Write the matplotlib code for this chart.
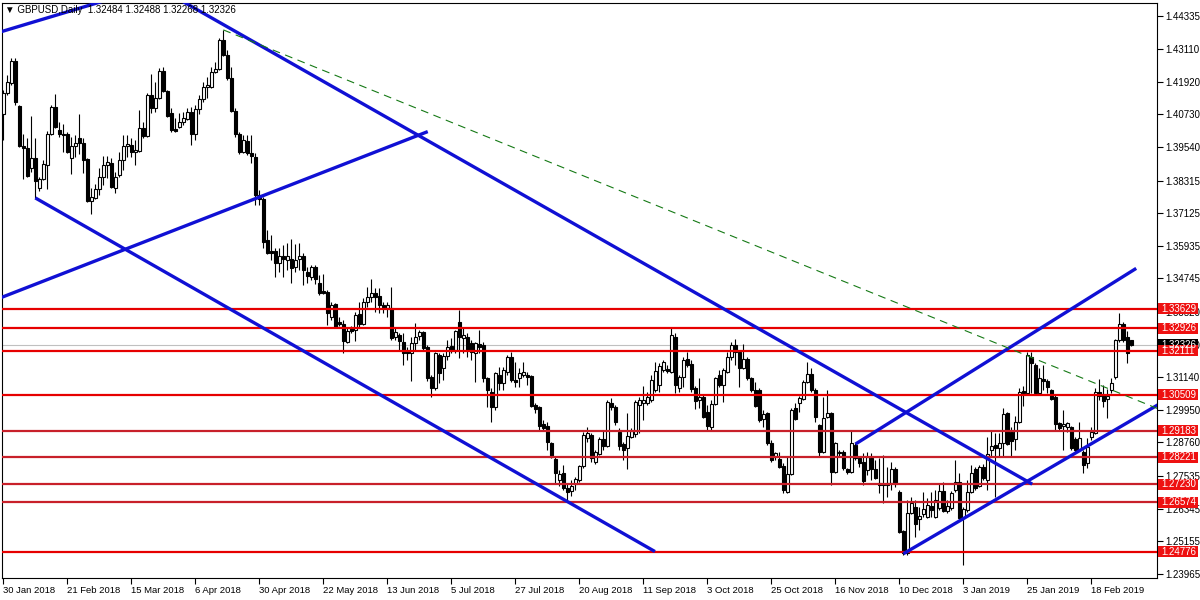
import matplotlib.pyplot as plt
from matplotlib.patches import Rectangle
from matplotlib.transforms import blended_transform_factory
import numpy as np

# GBPUSD daily candles, 30 Jan 2018 .. 1 Mar 2019 (one bar per weekday)
opens = [
    1.4074, 1.4151, 1.4187, 1.4267, 1.4103, 1.3957, 1.3950, 1.3877, 1.3914, 1.3804,
    1.3837, 1.3888, 1.4001, 1.4100, 1.4016, 1.4001, 1.4001, 1.3914, 1.3957, 1.3987,
    1.3968, 1.3910, 1.3757, 1.3768, 1.3801, 1.3844, 1.3888, 1.3895, 1.3804, 1.3852,
    1.3906, 1.3957, 1.3961, 1.3936, 1.3939, 1.4023, 1.3994, 1.4143, 1.4096, 1.4133,
    1.4231, 1.4158, 1.4078, 1.4019, 1.4027, 1.4045, 1.4056, 1.4081, 1.4001, 1.4092,
    1.4129, 1.4173, 1.4173, 1.4227, 1.4238, 1.4344, 1.4289, 1.4205, 1.4085, 1.4001,
    1.3936, 1.3976, 1.3932, 1.3917, 1.3779, 1.3764, 1.3614, 1.3574, 1.3574, 1.3531,
    1.3556, 1.3542, 1.3545, 1.3516, 1.3545, 1.3556, 1.3498, 1.3480, 1.3516, 1.3458,
    1.3428, 1.3425, 1.3334, 1.3381, 1.3315, 1.3308, 1.3242, 1.3293, 1.3286, 1.3345,
    1.3308, 1.3388, 1.3407, 1.3421, 1.3410, 1.3377, 1.3366, 1.3366, 1.3261, 1.3268,
    1.3242, 1.3210, 1.3202, 1.3239, 1.3264, 1.3279, 1.3224, 1.3115, 1.3075, 1.3195,
    1.3148, 1.3191, 1.3228, 1.3213, 1.3315, 1.3257, 1.3261, 1.3239, 1.3202, 1.3235,
    1.3232, 1.3111, 1.3060, 1.3005, 1.3122, 1.3093, 1.3133, 1.3188, 1.3104, 1.3111,
    1.3122, 1.3122, 1.3118, 1.3013, 1.3005, 1.2943, 1.2936, 1.2874, 1.2815, 1.2739,
    1.2764, 1.2709, 1.2699, 1.2724, 1.2739, 1.2790, 1.2892, 1.2903, 1.2805, 1.2834,
    1.2889, 1.2863, 1.3020, 1.3005, 1.2914, 1.2870, 1.2856, 1.2896, 1.2907, 1.3013,
    1.3020, 1.3020, 1.3031, 1.3067, 1.3086, 1.3140, 1.3144, 1.3133, 1.3261, 1.3075,
    1.3115, 1.3180, 1.3162, 1.3075, 1.3031, 1.3042, 1.2987, 1.2932, 1.3016, 1.3122,
    1.3086, 1.3133, 1.3188, 1.3232, 1.3206, 1.3148, 1.3180, 1.3111, 1.3067, 1.3067,
    1.2961, 1.2984, 1.2874, 1.2823, 1.2815, 1.2790, 1.2695, 1.2761, 1.3002, 1.3020,
    1.3034, 1.3097, 1.3126, 1.3067, 1.2940, 1.2841, 1.2969, 1.2984, 1.2768, 1.2841,
    1.2841, 1.2779, 1.2768, 1.2867, 1.2819, 1.2805, 1.2775, 1.2819, 1.2779, 1.2728,
    1.2724, 1.2721, 1.2728, 1.2779, 1.2695, 1.2553, 1.2473, 1.2619, 1.2641, 1.2597,
    1.2615, 1.2604, 1.2644, 1.2604, 1.2637, 1.2699, 1.2626, 1.2637, 1.2702, 1.2732,
    1.2600, 1.2630, 1.2695, 1.2779, 1.2717, 1.2786, 1.2739, 1.2848, 1.2867, 1.2856,
    1.2874, 1.2984, 1.2914, 1.2889, 1.2950, 1.3064, 1.3057, 1.3188, 1.3159, 1.3057,
    1.3107, 1.3100, 1.3067, 1.3042, 1.2947, 1.2936, 1.2932, 1.2932, 1.2889, 1.2852,
    1.2841, 1.2801, 1.2896, 1.2910, 1.3060, 1.3049, 1.3034, 1.3067, 1.3115, 1.3250,
    1.3308, 1.3261, 1.32484,
]
highs = [
    1.4162, 1.4216, 1.4278, 1.4278, 1.4107, 1.4001, 1.3987, 1.4067, 1.3987, 1.3844,
    1.3906, 1.4012, 1.4107, 1.4147, 1.4045, 1.4038, 1.4008, 1.3990, 1.3998, 1.4074,
    1.3987, 1.3914, 1.3804, 1.3819, 1.3877, 1.3921, 1.3921, 1.3914, 1.3863, 1.3936,
    1.3998, 1.3998, 1.3987, 1.3979, 1.4089, 1.4045, 1.4151, 1.4220, 1.4191, 1.4242,
    1.4245, 1.4162, 1.4096, 1.4060, 1.4078, 1.4081, 1.4096, 1.4100, 1.4107, 1.4143,
    1.4191, 1.4209, 1.4245, 1.4264, 1.4351, 1.4381, 1.4308, 1.4245, 1.4096, 1.4008,
    1.3998, 1.3998, 1.3998, 1.3932, 1.3797, 1.3771, 1.3651, 1.3633, 1.3585, 1.3585,
    1.3596, 1.3603, 1.3618, 1.3600, 1.3603, 1.3567, 1.3516, 1.3523, 1.3523, 1.3487,
    1.3490, 1.3432, 1.3388, 1.3385, 1.3334, 1.3323, 1.3293, 1.3301, 1.3352, 1.3388,
    1.3403, 1.3443, 1.3472, 1.3439, 1.3439, 1.3388, 1.3388, 1.3443, 1.3297, 1.3275,
    1.3275, 1.3224, 1.3261, 1.3312, 1.3286, 1.3282, 1.3232, 1.3122, 1.3206, 1.3202,
    1.3202, 1.3250, 1.3257, 1.3286, 1.3359, 1.3297, 1.3275, 1.3250, 1.3242, 1.3286,
    1.3242, 1.3115, 1.3075, 1.3133, 1.3151, 1.3151, 1.3195, 1.3206, 1.3170, 1.3148,
    1.3170, 1.3133, 1.3122, 1.3020, 1.3009, 1.2958, 1.2950, 1.2878, 1.2823, 1.2775,
    1.2794, 1.2724, 1.2739, 1.2750, 1.2794, 1.2914, 1.2932, 1.2910, 1.2848, 1.2896,
    1.2921, 1.3031, 1.3038, 1.3013, 1.2929, 1.2878, 1.2984, 1.2929, 1.3031, 1.3042,
    1.3082, 1.3060, 1.3122, 1.3170, 1.3166, 1.3177, 1.3159, 1.3297, 1.3275, 1.3122,
    1.3188, 1.3206, 1.3177, 1.3082, 1.3111, 1.3049, 1.3013, 1.3031, 1.3115, 1.3140,
    1.3148, 1.3206, 1.3242, 1.3253, 1.3213, 1.3235, 1.3188, 1.3115, 1.3097, 1.3075,
    1.2994, 1.2987, 1.2885, 1.2841, 1.2841, 1.2801, 1.2823, 1.3002, 1.3020, 1.3045,
    1.3104, 1.3170, 1.3148, 1.3075, 1.2943, 1.3042, 1.3067, 1.2987, 1.2878, 1.2848,
    1.2848, 1.2783, 1.2921, 1.2874, 1.2823, 1.2837, 1.2841, 1.2837, 1.2812, 1.2819,
    1.2830, 1.2786, 1.2805, 1.2786, 1.2702, 1.2557, 1.2666, 1.2677, 1.2666, 1.2641,
    1.2695, 1.2673, 1.2695, 1.2702, 1.2728, 1.2732, 1.2666, 1.2699, 1.2812, 1.2764,
    1.2641, 1.2739, 1.2794, 1.2786, 1.2794, 1.2797, 1.2896, 1.2921, 1.2910, 1.2910,
    1.3002, 1.2987, 1.2932, 1.2972, 1.3075, 1.3082, 1.3206, 1.3206, 1.3166, 1.3148,
    1.3159, 1.3107, 1.3071, 1.3049, 1.2950, 1.2994, 1.2950, 1.2936, 1.2896, 1.2950,
    1.2848, 1.2892, 1.2932, 1.3075, 1.3107, 1.3086, 1.3071, 1.3111, 1.3253, 1.3348,
    1.3315, 1.3282, 1.32488,
]
lows = [
    1.3979, 1.4143, 1.4180, 1.4107, 1.3954, 1.3837, 1.3844, 1.3863, 1.3768, 1.3793,
    1.3833, 1.3801, 1.3998, 1.4023, 1.3990, 1.3936, 1.3932, 1.3855, 1.3917, 1.3928,
    1.3859, 1.3753, 1.3709, 1.3765, 1.3779, 1.3815, 1.3841, 1.3804, 1.3786, 1.3844,
    1.3870, 1.3917, 1.3917, 1.3888, 1.3936, 1.3987, 1.3990, 1.4078, 1.4081, 1.4130,
    1.4155, 1.4063, 1.4008, 1.4008, 1.4023, 1.4034, 1.4052, 1.3961, 1.3979, 1.4074,
    1.4118, 1.4133, 1.4169, 1.4224, 1.4235, 1.4286, 1.4198, 1.4081, 1.3990, 1.3928,
    1.3932, 1.3925, 1.3895, 1.3742, 1.3742, 1.3585, 1.3563, 1.3542, 1.3480, 1.3498,
    1.3480, 1.3505, 1.3458, 1.3498, 1.3505, 1.3451, 1.3458, 1.3469, 1.3454, 1.3414,
    1.3418, 1.3304, 1.3323, 1.3293, 1.3301, 1.3202, 1.3239, 1.3275, 1.3246, 1.3297,
    1.3304, 1.3370, 1.3388, 1.3352, 1.3348, 1.3348, 1.3334, 1.3250, 1.3250, 1.3213,
    1.3159, 1.3177, 1.3100, 1.3213, 1.3250, 1.3213, 1.3100, 1.3042, 1.3067, 1.3093,
    1.3104, 1.3177, 1.3202, 1.3202, 1.3184, 1.3202, 1.3188, 1.3177, 1.3097, 1.3202,
    1.3097, 1.3005, 1.2950, 1.2994, 1.3067, 1.3067, 1.3122, 1.3097, 1.3078, 1.3078,
    1.3115, 1.3086, 1.3005, 1.2984, 1.2921, 1.2921, 1.2848, 1.2819, 1.2724, 1.2717,
    1.2702, 1.2662, 1.2680, 1.2702, 1.2732, 1.2783, 1.2878, 1.2805, 1.2797, 1.2830,
    1.2848, 1.2860, 1.2994, 1.2940, 1.2848, 1.2812, 1.2779, 1.2892, 1.2896, 1.2910,
    1.2958, 1.3013, 1.3024, 1.3060, 1.3060, 1.3133, 1.3129, 1.3129, 1.3057, 1.3060,
    1.3078, 1.3151, 1.3060, 1.2998, 1.3002, 1.2965, 1.2921, 1.2921, 1.3013, 1.3078,
    1.3024, 1.3129, 1.3177, 1.3159, 1.3078, 1.3144, 1.3104, 1.3060, 1.3005, 1.2950,
    1.2932, 1.2867, 1.2805, 1.2812, 1.2783, 1.2692, 1.2692, 1.2757, 1.2958, 1.2987,
    1.3031, 1.3093, 1.3060, 1.2950, 1.2823, 1.2837, 1.2965, 1.2721, 1.2764, 1.2823,
    1.2775, 1.2761, 1.2764, 1.2812, 1.2786, 1.2721, 1.2757, 1.2739, 1.2743, 1.2692,
    1.2655, 1.2677, 1.2702, 1.2713, 1.2546, 1.2465, 1.2465, 1.2615, 1.2531, 1.2557,
    1.2604, 1.2600, 1.2604, 1.2600, 1.2630, 1.2622, 1.2619, 1.2630, 1.2695, 1.2593,
    1.2429, 1.2622, 1.2692, 1.2702, 1.2713, 1.2739, 1.2702, 1.2823, 1.2677, 1.2823,
    1.2823, 1.2867, 1.2823, 1.2848, 1.2947, 1.3009, 1.3050, 1.3057, 1.3053, 1.3053,
    1.3067, 1.3057, 1.3031, 1.2918, 1.2918, 1.2848, 1.2914, 1.2848, 1.2841, 1.2845,
    1.2764, 1.2783, 1.2885, 1.2907, 1.3031, 1.3005, 1.2965, 1.3057, 1.3107, 1.3242,
    1.3242, 1.3166, 1.32268,
]
closes = [
    1.4151, 1.4191, 1.4267, 1.4118, 1.3957, 1.3950, 1.3848, 1.3914, 1.3830, 1.3837,
    1.3892, 1.4001, 1.4100, 1.4027, 1.4001, 1.3998, 1.3936, 1.3957, 1.3968, 1.3968,
    1.3906, 1.3757, 1.3771, 1.3801, 1.3844, 1.3888, 1.3899, 1.3808, 1.3844, 1.3906,
    1.3957, 1.3965, 1.3936, 1.3943, 1.4023, 1.3994, 1.4143, 1.4096, 1.4133, 1.4231,
    1.4158, 1.4067, 1.4016, 1.4012, 1.4045, 1.4060, 1.4081, 1.4001, 1.4092, 1.4129,
    1.4173, 1.4180, 1.4227, 1.4238, 1.4344, 1.4289, 1.4205, 1.4085, 1.4001, 1.3936,
    1.3979, 1.3932, 1.3921, 1.3779, 1.3764, 1.3607, 1.3567, 1.3567, 1.3531, 1.3556,
    1.3545, 1.3556, 1.3512, 1.3542, 1.3556, 1.3505, 1.3483, 1.3516, 1.3472, 1.3421,
    1.3421, 1.3348, 1.3377, 1.3297, 1.3308, 1.3246, 1.3282, 1.3282, 1.3341, 1.3308,
    1.3388, 1.3407, 1.3421, 1.3407, 1.3377, 1.3370, 1.3377, 1.3257, 1.3279, 1.3246,
    1.3202, 1.3202, 1.3239, 1.3261, 1.3279, 1.3221, 1.3111, 1.3075, 1.3202, 1.3129,
    1.3191, 1.3224, 1.3213, 1.3282, 1.3261, 1.3268, 1.3213, 1.3206, 1.3239, 1.3224,
    1.3111, 1.3067, 1.3005, 1.3129, 1.3093, 1.3140, 1.3188, 1.3104, 1.3097, 1.3129,
    1.3133, 1.3115, 1.3009, 1.2998, 1.2936, 1.2929, 1.2878, 1.2823, 1.2764, 1.2761,
    1.2709, 1.2695, 1.2717, 1.2743, 1.2790, 1.2903, 1.2910, 1.2819, 1.2841, 1.2889,
    1.2863, 1.3024, 1.3005, 1.2950, 1.2863, 1.2848, 1.2900, 1.2918, 1.3024, 1.3031,
    1.3031, 1.3042, 1.3104, 1.3137, 1.3155, 1.3170, 1.3137, 1.3268, 1.3086, 1.3115,
    1.3177, 1.3159, 1.3071, 1.3027, 1.3042, 1.2969, 1.2936, 1.3016, 1.3111, 1.3086,
    1.3140, 1.3188, 1.3232, 1.3206, 1.3148, 1.3180, 1.3111, 1.3067, 1.3009, 1.2958,
    1.2980, 1.2874, 1.2812, 1.2837, 1.2786, 1.2702, 1.2761, 1.2994, 1.2961, 1.3038,
    1.3097, 1.3126, 1.3067, 1.2969, 1.2841, 1.2965, 1.2984, 1.2768, 1.2874, 1.2837,
    1.2783, 1.2768, 1.2874, 1.2819, 1.2801, 1.2735, 1.2823, 1.2779, 1.2746, 1.2721,
    1.2721, 1.2728, 1.2779, 1.2724, 1.2549, 1.2473, 1.2619, 1.2655, 1.2578, 1.2608,
    1.2633, 1.2648, 1.2630, 1.2666, 1.2699, 1.2626, 1.2644, 1.2692, 1.2732, 1.2600,
    1.2633, 1.2695, 1.2764, 1.2709, 1.2786, 1.2746, 1.2834, 1.2863, 1.2856, 1.2874,
    1.2980, 1.2870, 1.2881, 1.2950, 1.3060, 1.3057, 1.3195, 1.3166, 1.3057, 1.3111,
    1.3100, 1.3078, 1.3034, 1.2943, 1.2929, 1.2943, 1.2947, 1.2856, 1.2848, 1.2892,
    1.2794, 1.2860, 1.2914, 1.3060, 1.3045, 1.3027, 1.3045, 1.3093, 1.3250, 1.3308,
    1.3250, 1.3202, 1.32326,
]

date_labels = [
    "30 Jan 2018", "21 Feb 2018", "15 Mar 2018", "6 Apr 2018", "30 Apr 2018",
    "22 May 2018", "13 Jun 2018", "5 Jul 2018", "27 Jul 2018", "20 Aug 2018",
    "11 Sep 2018", "3 Oct 2018", "25 Oct 2018", "16 Nov 2018", "10 Dec 2018",
    "3 Jan 2019", "25 Jan 2019", "18 Feb 2019",
]
price_ticks = [
    1.44335, 1.43110, 1.41920, 1.40730, 1.39540, 1.38315, 1.37125, 1.35935, 1.34745,
    1.33520, 1.32330, 1.31140, 1.29950, 1.28760, 1.27535, 1.26345, 1.25155, 1.23965,
]
levels = [1.33629, 1.32926, 1.32111, 1.30509, 1.29183, 1.28221, 1.27230, 1.26574, 1.24776]

# trend lines as (bar index, price) end points
upper_left = [(-2, 1.4368), (30, 1.4508)]
falling_main = [(44.2, 1.4490), (257.2, 1.2724)]
rising_left = [(-1, 1.3402), (106.1, 1.4010)]
falling_lower = [(8, 1.3768), (162.9, 1.2478)]
rising_upper = [(213, 1.2870), (283.2, 1.3511)]
rising_lower = [(225, 1.2470), (290, 1.3025)]
green_dash = [(55, 1.4381), (290, 1.2991)]

header = "\u25bc GBPUSD,Daily  1.32484 1.32488 1.32268 1.32326"

plt.rcParams['font.family'] = ['Liberation Sans', 'DejaVu Sans']

fig = plt.figure(figsize=(12, 6), dpi=100)
ax = fig.add_axes([2 / 1200, 22 / 600, 1155 / 1200, 575 / 600])
ax.set_xlim(-0.33, 288.4)
ax.set_ylim(1.23815, 1.44791)

o = np.array(opens)
h = np.array(highs)
l = np.array(lows)
c = np.array(closes)
x = np.arange(len(o))

# candles
ax.vlines(x, l, h, color='black', lw=0.8, zorder=2)
up = c >= o
body_lo = np.minimum(o, c)
body_h = np.abs(c - o)
ax.bar(x[up], body_h[up], bottom=body_lo[up], width=0.72, color='white',
       edgecolor='black', linewidth=0.8, zorder=3)
ax.bar(x[~up], body_h[~up], bottom=body_lo[~up], width=0.72, color='black',
       edgecolor='black', linewidth=0.8, zorder=3)

# bid line
ax.axhline(c[-1], color='#c0c0c0', lw=0.8, zorder=1)

# horizontal levels
level_colors = ['#e60000'] * 4 + ['#c8202a'] * 4 + ['#e60000']
for lv, col in zip(levels, level_colors):
    ax.axhline(lv, color=col, lw=1.6, zorder=4)

# trend lines
blue = '#1010d4'
for seg in [upper_left, falling_main, rising_left, falling_lower, rising_upper, rising_lower]:
    xs, ys = zip(*seg)
    ax.plot(xs, ys, color=blue, lw=2.4, solid_capstyle='butt', zorder=5)
xs, ys = zip(*green_dash)
ax.plot(xs, ys, color='#167a16', lw=0.8, dashes=(7, 5), zorder=5)

# axes styling
for sp in ax.spines.values():
    sp.set_color('black')
    sp.set_linewidth(0.8)
ax.yaxis.tick_right()
ax.set_yticks(price_ticks)
ax.set_yticklabels([f"{v:.5f}" for v in price_ticks])
ax.tick_params(axis='y', direction='out', length=4, width=0.8, pad=2, labelsize=7)
ax.set_xticks(np.arange(0, 16 * len(date_labels), 16))
ax.set_xticklabels(date_labels)
ax.tick_params(axis='x', direction='out', length=4, width=0.8, pad=2, labelsize=6.8)
for lbl in ax.get_xticklabels():
    lbl.set_ha('left')

# price labels on the right scale
trans = blended_transform_factory(ax.transAxes, ax.transData)
box_w = 40 / 1155
box_h = 11 / 2741


def price_box(value, face):
    ax.add_patch(Rectangle((1.0009, value - box_h / 2), box_w, box_h, transform=trans,
                           facecolor=face, edgecolor='none', clip_on=False, zorder=10))
    ax.text(1.0035, value, f"{value:.5f}", transform=trans, color='white', fontsize=7,
            va='center', ha='left', clip_on=False, zorder=11)


price_box(c[-1], 'black')
for lv in levels:
    price_box(lv, '#ee1111')

fig.text(5 / 1200, 1 - 10 / 600, header, fontsize=7, va='center', ha='left')

fig.savefig('out.png', dpi=100)
